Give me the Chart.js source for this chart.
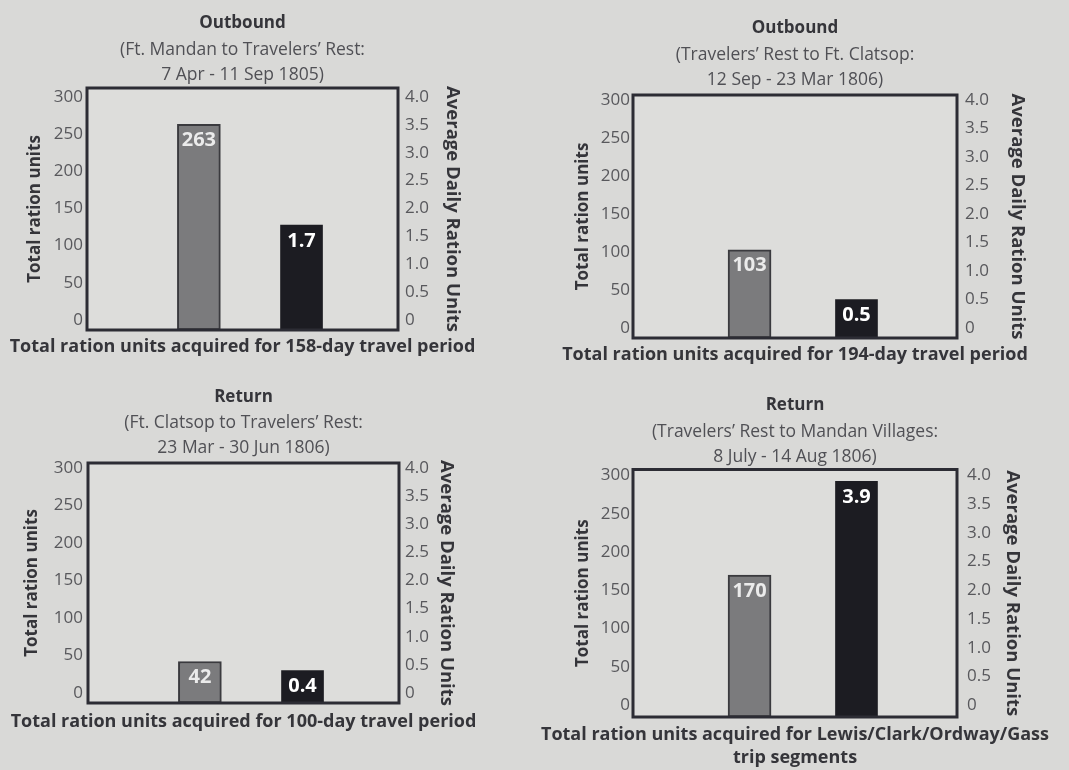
<!DOCTYPE html>
<html>
<head>
<meta charset="utf-8">
<script src="https://cdn.jsdelivr.net/npm/chart.js@4.4.1/dist/chart.umd.min.js"></script>
<style>
  html, body { margin: 0; padding: 0; background: #d9d9d7; }
  #wrap { position: relative; width: 1069px; height: 770px; overflow: hidden; }
  canvas { position: absolute; }
</style>
</head>
<body>
<div id="wrap">
  <canvas id="c0"></canvas>
  <canvas id="c1"></canvas>
  <canvas id="c2"></canvas>
  <canvas id="c3"></canvas>
</div>
<script>
// chart data
const panelTitles = ['Outbound', 'Outbound', 'Return', 'Return'];
const panelSubtitles = [
    ['(Ft. Mandan to Travelers\u2019 Rest:', '7 Apr - 11 Sep 1805)'],
    ['(Travelers\u2019 Rest to Ft. Clatsop:', '12 Sep - 23 Mar 1806)'],
    ['(Ft. Clatsop to Travelers\u2019 Rest:', '23 Mar - 30 Jun 1806)'],
    ['(Travelers\u2019 Rest to Mandan Villages:', '8 July - 14 Aug 1806)']
];
const xTitles = [
    ['Total ration units acquired for 158-day travel period'],
    ['Total ration units acquired for 194-day travel period'],
    ['Total ration units acquired for 100-day travel period'],
    ['Total ration units acquired for Lewis/Clark/Ordway/Gass', 'trip segments']
];
const seriesNames = ['Total ration units', 'Average Daily Ration Units'];
const totalUnits = [263, 103, 42, 170];
const avgDaily = [1.7, 0.5, 0.4, 3.9];
const leftTicks = [0, 50, 100, 150, 200, 250, 300];
const rightTicks = [0, 0.5, 1.0, 1.5, 2.0, 2.5, 3.0, 3.5, 4.0];

// layout of each panel (canvas box, plot box, paddings)
const panels = [
    { x: 0, y: 0, w: 540, h: 380, L: 87, R: 398, B: 330, yMin: -13.5, yMax: 312,
      padTop: 12.8, subTop: 4.3, subBot: 0.5, lTitle: 25, rTitle: 77, lTick: 4, rTick: 7, xTitleY: 347 },
    { x: 540, y: 0, w: 529, h: 380, L: 93, R: 417, B: 338, yMin: -13.2, yMax: 306.6,
      padTop: 17.8, subTop: 4.3, subBot: 2.5, lTitle: 33, rTitle: 41, lTick: 3, rTick: 8, xTitleY: 355 },
    { x: 0, y: 380, w: 540, h: 390, L: 88, R: 399, B: 323, yMin: -13.3, yMax: 306.7,
      padTop: 6.8, subTop: 3.3, subBot: 2.5, lTitle: 22, rTitle: 83, lTick: 5, rTick: 6, xTitleY: 342 },
    { x: 540, y: 380, w: 529, h: 390, L: 93, R: 417, B: 337, yMin: -15.6, yMax: 307.8,
      padTop: 14.8, subTop: 4.3, subBot: 0, lTitle: 33, rTitle: 46, lTick: 3, rTick: 10, xTitleY: 355 }
];

const FONT = "'Open Sans', 'DejaVu Sans', sans-serif";
const textDark = '#35353a';
const tickGrey = '#58585c';

// plot frame + background
const framePlugin = {
    id: 'frame',
    beforeDraw(chart) {
        const a = chart.chartArea, ctx = chart.ctx;
        ctx.save();
        ctx.fillStyle = '#dddddb';
        ctx.fillRect(a.left, a.top, a.right - a.left, a.bottom - a.top);
        ctx.restore();
    },
    afterDatasetsDraw(chart) {
        const a = chart.chartArea, ctx = chart.ctx;
        ctx.save();
        ctx.strokeStyle = '#2c2c34';
        ctx.lineWidth = 3;
        ctx.strokeRect(a.left, a.top, a.right - a.left, a.bottom - a.top);
        ctx.restore();
    }
};

// value labels inside top of bars
const barLabelPlugin = {
    id: 'barLabels',
    afterDatasetsDraw(chart) {
        const ctx = chart.ctx;
        ctx.save();
        ctx.font = 'bold 20px ' + FONT;
        ctx.textAlign = 'center';
        ctx.textBaseline = 'middle';
        chart.data.datasets.forEach((ds, di) => {
            chart.getDatasetMeta(di).data.forEach((bar, i) => {
                const v = ds.data[i].y;
                ctx.fillStyle = di === 0 ? '#ebebeb' : '#ffffff';
                ctx.fillText(di === 0 ? String(v) : v.toFixed(1), bar.x, bar.y + 16);
            });
        });
        ctx.restore();
    }
};

// x axis caption, wider than the plot so drawn without maxWidth squeeze
const xCaptionPlugin = {
    id: 'xCaption',
    afterDraw(chart, args, opts) {
        const a = chart.chartArea, ctx = chart.ctx;
        ctx.save();
        ctx.font = 'bold 18px ' + FONT;
        ctx.fillStyle = textDark;
        ctx.textAlign = 'center';
        ctx.textBaseline = 'middle';
        opts.lines.forEach((t, k) => ctx.fillText(t, (a.left + a.right) / 2, opts.y + k * 23));
        ctx.restore();
    }
};

panels.forEach((p, i) => {
    const canvas = document.getElementById('c' + i);
    canvas.width = p.w;
    canvas.height = p.h;
    canvas.style.left = p.x + 'px';
    canvas.style.top = p.y + 'px';

    const y1Min = p.yMin / 75, y1Max = p.yMax / 75;

    new Chart(canvas, {
        type: 'bar',
        data: {
            datasets: [{
                label: seriesNames[0],
                data: [{ x: 0, y: totalUnits[i] }],
                yAxisID: 'y',
                base: p.yMin,
                grouped: false,
                backgroundColor: '#7b7b7d',
                borderColor: '#3a3a3e',
                borderWidth: 2,
                borderSkipped: false,
                barThickness: 43
            }, {
                label: seriesNames[1],
                data: [{ x: 1, y: avgDaily[i] }],
                yAxisID: 'y1',
                base: y1Min,
                grouped: false,
                backgroundColor: '#1c1c22',
                borderWidth: 0,
                barThickness: 42
            }]
        },
        options: {
            responsive: false,
            animation: false,
            devicePixelRatio: 1,
            layout: { padding: { top: p.padTop, left: 0, right: 0, bottom: 0 } },
            plugins: {
                legend: { display: false },
                tooltip: { enabled: false },
                title: {
                    display: true,
                    text: panelTitles[i],
                    fullSize: false,
                    color: textDark,
                    font: { family: FONT, size: 17, weight: 'bold', lineHeight: 1.2 },
                    padding: { top: 0, bottom: 0 }
                },
                subtitle: {
                    display: true,
                    text: panelSubtitles[i],
                    fullSize: false,
                    color: '#505055',
                    font: { family: FONT, size: 17.5, weight: 'normal', lineHeight: 25 / 17.5 },
                    padding: { top: p.subTop, bottom: p.subBot }
                },
                xCaption: { lines: xTitles[i], y: p.xTitleY }
            },
            scales: {
                x: {
                    type: 'linear',
                    offset: false,
                    min: -1.09,
                    max: 1.94,
                    grid: { display: false, offset: false, drawTicks: false },
                    border: { display: false },
                    ticks: { display: false },
                    afterFit(scale) { scale.height = p.h - p.B; }
                },
                y: {
                    position: 'left',
                    min: p.yMin,
                    max: p.yMax,
                    grid: { display: false, drawTicks: false },
                    border: { display: false },
                    afterBuildTicks(scale) { scale.ticks = leftTicks.map(v => ({ value: v })); },
                    ticks: {
                        color: tickGrey,
                        padding: p.lTick,
                        font: { family: FONT, size: 17 },
                        callback: v => String(v)
                    },
                    title: {
                        display: true,
                        text: seriesNames[0],
                        color: textDark,
                        font: { family: FONT, size: 17, weight: 'bold', lineHeight: 1.2 },
                        padding: { top: p.lTitle, bottom: 0 }
                    },
                    afterFit(scale) { scale.width = p.L; }
                },
                y1: {
                    position: 'right',
                    min: y1Min,
                    max: y1Max,
                    grid: { display: false, drawTicks: false },
                    border: { display: false },
                    afterBuildTicks(scale) { scale.ticks = rightTicks.map(v => ({ value: v })); },
                    ticks: {
                        color: tickGrey,
                        padding: p.rTick,
                        font: { family: FONT, size: 17 },
                        callback: v => v === 0 ? '0' : v.toFixed(1)
                    },
                    title: {
                        display: true,
                        text: seriesNames[1],
                        color: textDark,
                        font: { family: FONT, size: 18.5, weight: 'bold', lineHeight: 1.2 },
                        padding: { top: p.rTitle, bottom: 0 }
                    },
                    afterFit(scale) { scale.width = p.w - p.R; }
                }
            }
        },
        plugins: [framePlugin, barLabelPlugin, xCaptionPlugin]
    });
});
</script>
</body>
</html>
